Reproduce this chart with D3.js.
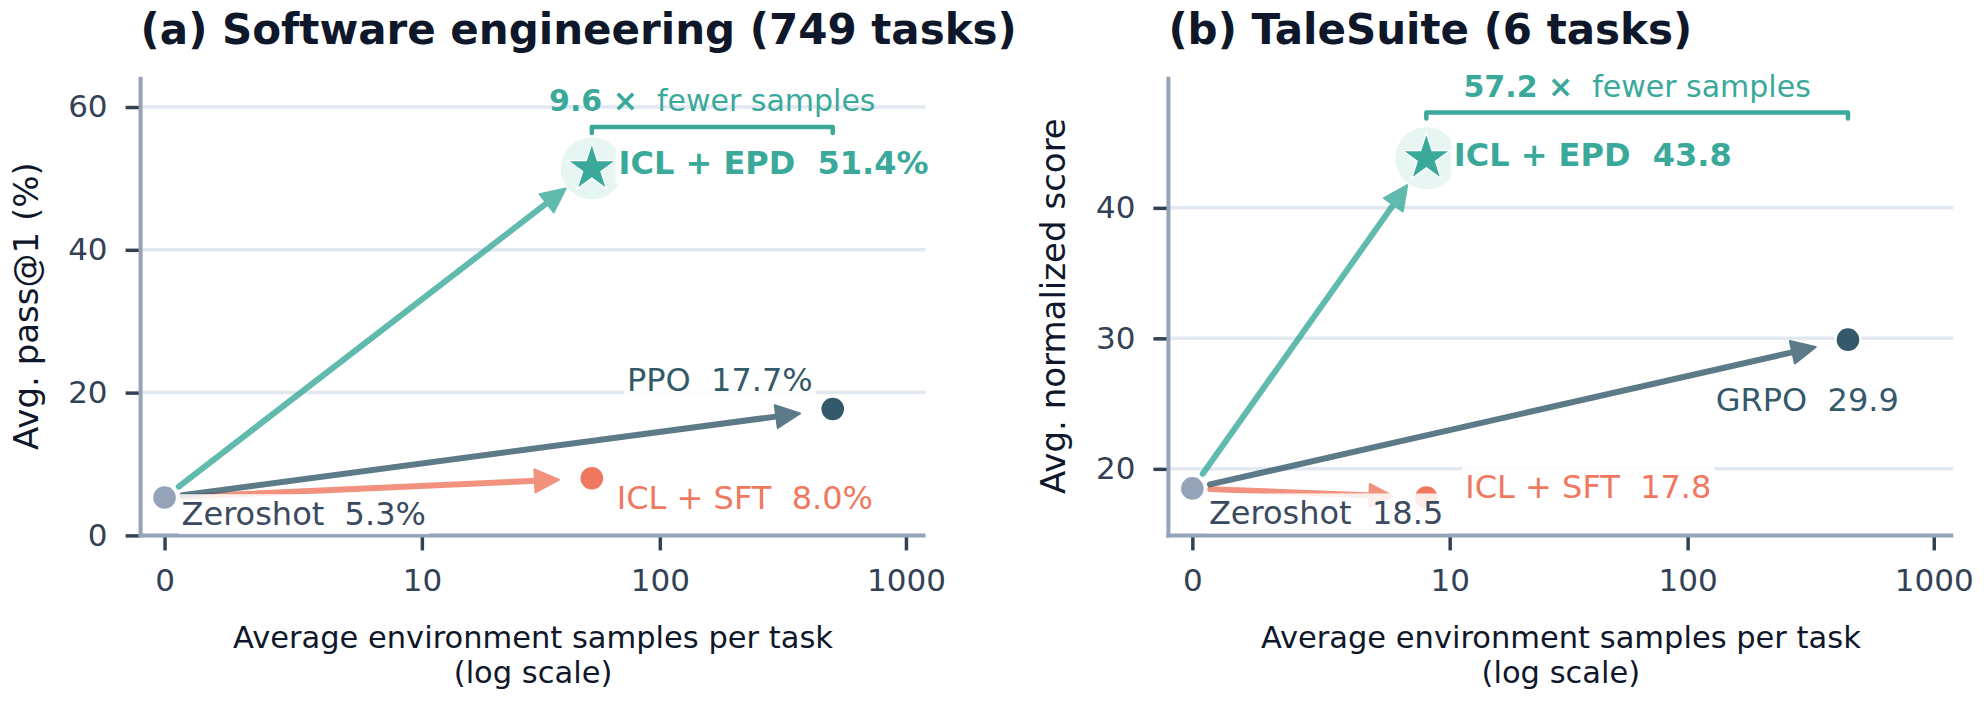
<!DOCTYPE html>
<html>
<head>
<meta charset="utf-8">
<script src="https://cdnjs.cloudflare.com/ajax/libs/d3/7.8.5/d3.min.js"></script>
<style>
  body { margin: 0; background: #fff; }
  svg text { font-family: "DejaVu Sans", sans-serif; white-space: pre; }
</style>
</head>
<body>
<svg id="chart" width="1986" height="707"></svg>
<script>
// ---- data ----
var methodsA = ["Zeroshot", "ICL + EPD", "ICL + SFT", "PPO"];
var samplesA = [0, 52.6, 52.6, 505];      // avg env samples per task
var scoresA  = [5.3, 51.4, 8.0, 17.7];    // avg pass@1 (%)
var speedupA = "9.6";

var methodsB = ["Zeroshot", "ICL + EPD", "ICL + SFT", "GRPO"];
var samplesB = [0, 7.85, 7.85, 449];
var scoresB  = [18.5, 43.8, 17.8, 29.9];  // avg normalized score
var speedupB = "57.2";

var xTicks  = [0, 10, 100, 1000];
var yTicksA = [0, 20, 40, 60];
var yTicksB = [20, 30, 40];

// ---- look ----
var colors = {
  "Zeroshot": "#94a3b8",
  "ICL + EPD": "#3aa99a",
  "ICL + SFT": "#f0785f",
  "PPO": "#34596a",
  "GRPO": "#34596a"
};
var labelColors = {
  "Zeroshot": "#3b4a5e",
  "ICL + EPD": "#3aa99a",
  "ICL + SFT": "#f0785f",
  "PPO": "#34596a",
  "GRPO": "#34596a"
};
var ink = "#0f172a", tickInk = "#334155", spineInk = "#94a3b8", gridInk = "#e2e8f0";
var plotTop = 76.7, plotBottom = 535.4;
var xDomain = [-0.25, 1200];

var panels = [
  { title: "(a) Software engineering (749 tasks)", yLabel: "Avg. pass@1 (%)",
    methods: methodsA, samples: samplesA, scores: scoresA, unit: "%",
    speedup: speedupA, yTicks: yTicksA, yDomain: [0, 64.25],
    left: 140.6, right: 925.5, bracketY: 57.2,
    // label placement relative to each point: [dx, dy, anchor]
    labelPos: [[17, 27.6, "start"], [26.7, 6, "start"], [25, 30.7, "start"], [-20, -17.7, "end"]] },
  { title: "(b) TaleSuite (6 tasks)", yLabel: "Avg. normalized score",
    methods: methodsB, samples: samplesB, scores: scoresB, unit: "",
    speedup: speedupB, yTicks: yTicksB, yDomain: [14.9, 50.05],
    left: 1168.4, right: 1953.3, bracketY: 47.3,
    labelPos: [[16.6, 36, "start"], [27.4, 7.7, "start"], [39, 0, "start"], [-40.7, 71, "middle"]] }
];

var svg = d3.select("#chart");

function drawPanel(p) {
  var g = svg.append("g");
  var x = d3.scaleSymlog().constant(1).domain(xDomain).range([p.left, p.right]);
  var y = d3.scaleLinear().domain(p.yDomain).range([plotBottom, plotTop]);

  // grid
  g.append("g").selectAll("line").data(p.yTicks).join("line")
    .attr("x1", p.left).attr("x2", p.right)
    .attr("y1", function(d) { return y(d); }).attr("y2", function(d) { return y(d); })
    .attr("stroke", gridInk).attr("stroke-width", 3.5);

  // axes
  var xAxis = g.append("g").attr("transform", "translate(0," + plotBottom + ")")
    .call(d3.axisBottom(x).tickValues(xTicks).tickFormat(d3.format("d")).tickSize(15).tickPadding(19));
  var yAxis = g.append("g").attr("transform", "translate(" + p.left + ",0)")
    .call(d3.axisLeft(y).tickValues(p.yTicks).tickFormat(d3.format("d")).tickSize(15).tickPadding(18));
  [xAxis, yAxis].forEach(function(a) {
    a.select(".domain").remove();
    a.selectAll(".tick line").attr("stroke", tickInk).attr("stroke-width", 3.5);
    a.selectAll(".tick text").attr("fill", tickInk).attr("font-size", 31)
      .attr("font-family", "DejaVu Sans");
  });

  // spines
  g.append("line").attr("x1", p.left).attr("x2", p.left).attr("y1", plotTop).attr("y2", plotBottom + 2)
    .attr("stroke", spineInk).attr("stroke-width", 4);
  g.append("line").attr("x1", p.left - 2).attr("x2", p.right).attr("y1", plotBottom).attr("y2", plotBottom)
    .attr("stroke", spineInk).attr("stroke-width", 4);

  // arrows from zeroshot to every other method
  var sx = x(p.samples[0]), sy = y(p.scores[0]);
  var arrowOrder = [2, 3, 1];
  arrowOrder.forEach(function(i) {
    var tx = x(p.samples[i]), ty = y(p.scores[i]);
    var dx = tx - sx, dy = ty - sy, len = Math.sqrt(dx * dx + dy * dy);
    var ux = dx / len, uy = dy / len, nx = -uy, ny = ux;
    var ax0 = sx + ux * 18, ay0 = sy + uy * 18;
    var tipX = tx - ux * 33, tipY = ty - uy * 33;
    var bx = tipX - ux * 24, by = tipY - uy * 24;
    var a = g.append("g").attr("opacity", 0.8);
    a.append("line").attr("x1", ax0).attr("y1", ay0).attr("x2", bx + ux * 3).attr("y2", by + uy * 3)
      .attr("stroke", colors[p.methods[i]]).attr("stroke-width", 6).attr("stroke-linecap", "round");
    a.append("path")
      .attr("d", "M" + tipX + "," + tipY + "L" + (bx + nx * 11.5) + "," + (by + ny * 11.5) +
                 "L" + (bx - nx * 11.5) + "," + (by - ny * 11.5) + "Z")
      .attr("fill", colors[p.methods[i]]).attr("stroke", colors[p.methods[i]])
      .attr("stroke-width", 2).attr("stroke-linejoin", "round");
  });

  // halo + markers
  var ex = x(p.samples[1]), ey = y(p.scores[1]);
  g.append("circle").attr("cx", ex).attr("cy", ey).attr("r", 31)
    .attr("fill", colors["ICL + EPD"]).attr("opacity", 0.12);
  p.methods.forEach(function(m, i) {
    var cx = x(p.samples[i]), cy = y(p.scores[i]);
    if (m === "ICL + EPD") {
      g.append("path").attr("d", d3.symbol(d3.symbolStar, 700)())
        .attr("transform", "translate(" + cx + "," + cy + ")")
        .attr("fill", colors[m]).attr("stroke", "#fff").attr("stroke-width", 1.2);
    } else {
      g.append("circle").attr("cx", cx).attr("cy", cy).attr("r", 12.5)
        .attr("fill", colors[m]).attr("stroke", "#fff").attr("stroke-width", 2.4);
    }
  });

  // value labels with a soft white box
  p.methods.forEach(function(m, i) {
    var pos = p.labelPos[i];
    var lg = g.append("g");
    var t = lg.append("text")
      .attr("x", x(p.samples[i]) + pos[0]).attr("y", y(p.scores[i]) + pos[1])
      .attr("text-anchor", pos[2]).attr("font-size", 32)
      .attr("font-weight", m === "ICL + EPD" ? "bold" : "normal")
      .attr("fill", labelColors[m])
      .text(m + "  " + d3.format(".1f")(p.scores[i]) + p.unit);
    var bb = t.node().getBBox();
    lg.insert("rect", "text").attr("x", bb.x - 3).attr("y", bb.y - 1)
      .attr("width", bb.width + 6).attr("height", bb.height + 2)
      .attr("fill", "#fff").attr("opacity", 0.85);
  });

  // "N x fewer samples" bracket between EPD and the RL baseline
  var last = p.methods.length - 1;
  var bx0 = x(p.samples[1]), bx1 = x(p.samples[last]), byy = y(p.bracketY);
  g.append("path")
    .attr("d", "M" + bx0 + "," + (byy + 6) + "V" + byy + "H" + bx1 + "V" + (byy + 6))
    .attr("fill", "none").attr("stroke", colors["ICL + EPD"]).attr("stroke-width", 4.5)
    .attr("stroke-linecap", "round").attr("stroke-linejoin", "round");
  var bt = g.append("text").attr("x", (bx0 + bx1) / 2).attr("y", byy - 16)
    .attr("text-anchor", "middle").attr("font-size", 30).attr("fill", colors["ICL + EPD"]);
  bt.append("tspan").attr("font-weight", "bold").text(p.speedup + " \u00d7");
  bt.append("tspan").text("  fewer samples");

  // titles and axis labels
  g.append("text").attr("x", p.left).attr("y", 44.3)
    .attr("font-size", 42).attr("font-weight", "bold").attr("fill", ink).text(p.title);
  var midX = (p.left + p.right) / 2;
  g.append("text").attr("x", midX).attr("y", 648.3).attr("text-anchor", "middle")
    .attr("font-size", 30.5).attr("fill", ink).text("Average environment samples per task");
  g.append("text").attr("x", midX).attr("y", 683).attr("text-anchor", "middle")
    .attr("font-size", 30.5).attr("fill", ink).text("(log scale)");
  g.append("text")
    .attr("transform", "translate(" + (p.left - 103) + "," + ((plotTop + plotBottom) / 2) + ") rotate(-90)")
    .attr("text-anchor", "middle").attr("font-size", 34).attr("fill", ink).text(p.yLabel);
}

panels.forEach(drawPanel);
</script>
</body>
</html>
